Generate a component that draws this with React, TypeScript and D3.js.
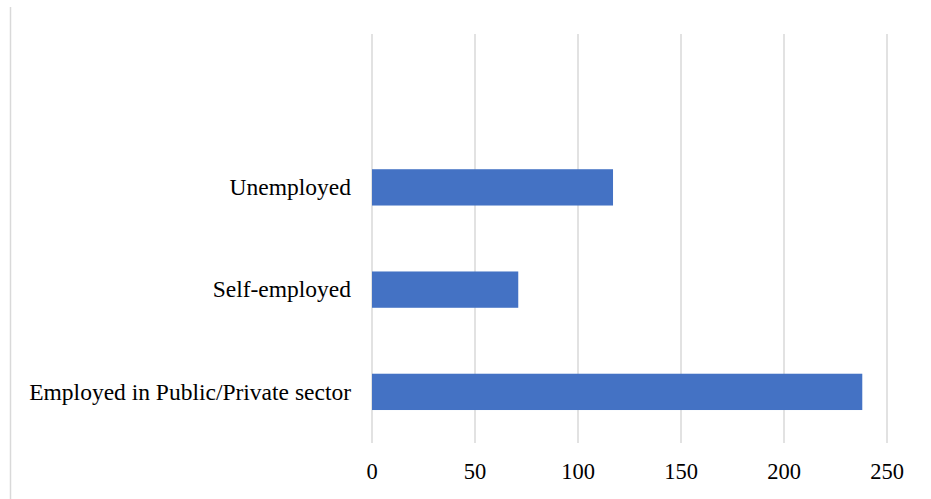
import React from "react";
import * as d3 from "d3";

const categories = ["", "Unemployed", "Self-employed", "Employed in Public/Private sector"];
const values: (number | null)[] = [null, 117, 71, 238];
const ticks = [0, 50, 100, 150, 200, 250];

export default function App() {
  const W = 931, H = 499;
  const x = d3.scaleLinear().domain([0, 250]).range([372, 887]);
  const y = d3.scaleBand().domain(categories).range([34, 443]).paddingInner(0.645).paddingOuter(0.3225);
  const band = d3.scaleBand().domain(categories).range([34, 443]);
  const font = "'Liberation Serif', 'Times New Roman', serif";
  return (
    <svg width={W} height={H} style={{ position: "absolute", left: 0, top: 0, background: "#fff" }}>
      <line x1={10.5} x2={10.5} y1={7} y2={H} stroke="#d9d9d9" strokeWidth={1.5} />
      {ticks.map((t) => (
        <g key={t}>
          <line x1={x(t)} x2={x(t)} y1={34} y2={443} stroke="#d9d9d9" strokeWidth={1.5} />
          <text x={x(t)} y={479} textAnchor="middle" fontFamily={font} fontSize={22.5} fill="#000">
            {t}
          </text>
        </g>
      ))}
      {categories.map((c, i) => {
        const v = values[i];
        const cy = (band(c) ?? 0) + band.bandwidth() / 2;
        return (
          <g key={i}>
            {v != null && (
              <rect x={x(0)} y={y(c)} width={x(v) - x(0)} height={y.bandwidth()} fill="#4472c4" />
            )}
            {c && (
              <text x={351} y={cy} dy="0.33em" textAnchor="end" fontFamily={font} fontSize={23.5} fill="#000">
                {c}
              </text>
            )}
          </g>
        );
      })}
    </svg>
  );
}
